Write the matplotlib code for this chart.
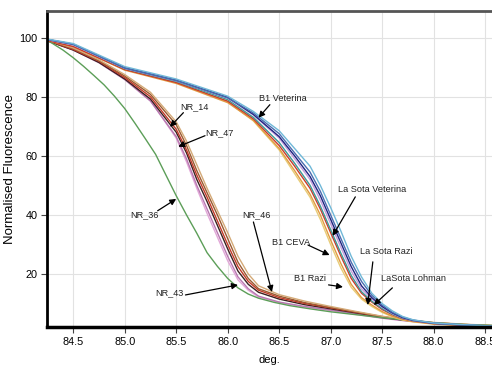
import matplotlib
matplotlib.use("Agg")
import matplotlib.pyplot as plt
from matplotlib import font_manager

installed = {f.name for f in font_manager.fontManager.ttflist}
HAS_NARROW = "Liberation Sans Narrow" in installed
NARROW = ["Liberation Sans Narrow", "Liberation Sans", "DejaVu Sans"]
REGULAR = ["Liberation Sans", "DejaVu Sans"]
TICK_FS = 9 if HAS_NARROW else 7.8
NOTE_FS = 7.5 if HAS_NARROW else 6.6

# melt curves, B1 / La Sota group
temp_a = [84.25, 84.5, 85.0, 85.5, 86.0, 86.25, 86.5, 86.65, 86.8, 86.9, 87.0,
          87.1, 87.2, 87.3, 87.4, 87.5, 87.6, 87.7, 87.8, 88.0, 88.3, 88.57]
lightblue_a = [99.5, 98.0, 90.2, 86.0, 80.2, 75.0, 68.5, 62.5, 56.5, 50.0, 42.5,
               34.5, 26.0, 19.0, 13.5, 10.0, 7.5, 5.6, 4.5, 3.4, 2.8, 2.4]
steel_a = [99.4, 97.7, 89.7, 85.5, 79.6, 74.5, 67.5, 61.0, 54.5, 48.0, 40.0,
           32.0, 24.0, 17.5, 12.8, 9.5, 7.0, 5.4, 4.4, 3.4, 2.8, 2.4]
navy_a = [99.4, 97.8, 89.8, 85.6, 79.8, 74.0, 66.5, 60.0, 53.0, 46.5, 38.5,
          30.5, 22.5, 16.0, 12.0, 9.0, 6.8, 5.2, 4.3, 3.3, 2.7, 2.3]
violet_a = [99.3, 97.5, 89.6, 85.4, 79.5, 73.8, 66.0, 59.0, 52.0, 45.0, 37.0,
            29.0, 21.0, 15.0, 11.5, 8.8, 6.6, 5.1, 4.2, 3.3, 2.7, 2.3]
teal_a = [99.3, 97.6, 89.5, 85.2, 79.0, 73.0, 64.5, 57.5, 50.0, 43.0, 35.0,
          27.0, 19.5, 14.0, 10.8, 8.3, 6.4, 5.0, 4.2, 3.3, 2.7, 2.3]
red_a = [99.0, 97.0, 89.2, 84.8, 78.5, 72.5, 63.5, 56.5, 49.0, 42.0, 34.0,
         26.0, 18.5, 13.5, 10.5, 8.0, 6.2, 4.9, 4.1, 3.2, 2.6, 2.3]
orange_a = [99.0, 97.0, 89.0, 84.5, 78.0, 72.0, 62.5, 55.0, 47.0, 40.0, 31.5,
            23.5, 16.5, 12.0, 9.5, 7.3, 5.7, 4.6, 3.9, 3.1, 2.6, 2.2]
yellow_a = [99.2, 97.3, 89.3, 84.9, 78.3, 71.8, 62.0, 54.0, 46.0, 38.5, 30.0,
            22.0, 15.5, 11.5, 9.0, 7.0, 5.5, 4.4, 3.8, 3.0, 2.5, 2.2]

# NR group
temp_b = [84.25, 84.5, 84.75, 85.0, 85.25, 85.5, 85.6, 85.7, 85.8, 85.9, 86.0,
          86.1, 86.2, 86.3, 86.5, 86.75, 87.0, 87.25, 87.5, 87.75, 88.0, 88.3, 88.57]
tan_b = [99.2, 96.5, 92.5, 87.5, 81.5, 71.5, 65.0, 57.0, 49.0, 41.5, 34.0,
         26.0, 20.0, 16.0, 13.0, 10.8, 9.0, 7.3, 5.7, 4.5, 3.6, 3.0, 2.6]
brown_b = [99.1, 96.3, 92.2, 87.0, 80.8, 70.5, 63.5, 55.0, 47.5, 40.0, 32.0,
           24.0, 18.5, 15.0, 12.5, 10.3, 8.7, 7.1, 5.6, 4.4, 3.5, 2.9, 2.5]
red_b = [99.0, 96.0, 92.0, 86.5, 80.0, 69.0, 62.0, 53.5, 46.0, 38.0, 30.0,
         22.5, 17.5, 14.5, 12.0, 10.0, 8.5, 7.0, 5.5, 4.3, 3.5, 2.9, 2.5]
dark_b = [98.9, 95.8, 91.6, 86.0, 79.2, 68.0, 61.0, 52.0, 44.5, 36.5, 28.5,
          21.0, 16.5, 13.8, 11.5, 9.6, 8.2, 6.8, 5.3, 4.2, 3.4, 2.8, 2.4]
mauve_b = [99.0, 95.8, 91.5, 85.8, 78.5, 66.5, 59.0, 50.0, 42.0, 34.0, 26.0,
           19.0, 15.0, 12.5, 10.5, 9.0, 7.8, 6.5, 5.1, 4.1, 3.3, 2.8, 2.4]
pink_b = [99.1, 96.0, 91.8, 86.2, 78.8, 66.0, 58.0, 49.0, 40.5, 32.5, 24.5,
          18.0, 14.5, 12.2, 10.3, 8.8, 7.6, 6.3, 5.0, 4.0, 3.3, 2.8, 2.4]

# NR_36
temp_c = [84.25, 84.3, 84.4, 84.5, 84.6, 84.7, 84.8, 84.9, 85.0, 85.1, 85.2,
          85.3, 85.4, 85.5, 85.6, 85.7, 85.8, 85.9, 86.0, 86.1, 86.2, 86.3,
          86.45, 86.6, 86.8, 87.0, 87.25, 87.5, 87.75, 88.0, 88.3, 88.57]
green_c = [99.0, 98.0, 95.8, 93.2, 90.3, 87.2, 84.0, 80.2, 76.0, 71.0, 65.8,
           60.5, 53.5, 46.5, 40.0, 33.8, 27.2, 22.6, 18.5, 15.3, 13.2, 11.8,
           10.4, 9.3, 8.2, 7.2, 6.2, 5.2, 4.3, 3.5, 2.9, 2.6]

curves = [
    (temp_b, pink_b, "#e2a8d8"), (temp_b, mauve_b, "#b878b0"),
    (temp_b, dark_b, "#3a2020"), (temp_b, red_b, "#c43a28"),
    (temp_b, brown_b, "#9a5a30"), (temp_b, tan_b, "#d4aa78"),
    (temp_c, green_c, "#5c9e58"),
    (temp_a, yellow_a, "#e8cc78"), (temp_a, orange_a, "#e09a40"),
    (temp_a, red_a, "#cc3a2a"), (temp_a, teal_a, "#3e9a98"),
    (temp_a, violet_a, "#c4a0dc"), (temp_a, navy_a, "#1e2480"),
    (temp_a, steel_a, "#4a6cb0"), (temp_a, lightblue_a, "#70b8d8"),
]

xticks = [84.5, 85.0, 85.5, 86.0, 86.5, 87.0, 87.5, 88.0, 88.5]
yticks = [20, 40, 60, 80, 100]

# (label, text pos, arrow tail, arrow tip)
notes = [
    ("B1 Veterina", (86.30, 79.3), (86.41, 77.3), (86.30, 72.9)),
    ("NR_14", (85.54, 76.6), (85.57, 74.6), (85.44, 69.8)),
    ("NR_47", (85.78, 67.8), (85.78, 66.8), (85.52, 63.1)),
    ("NR_36", (85.05, 40.0), (85.32, 41.4), (85.50, 45.4)),
    ("NR_43", (85.30, 13.6), (85.59, 12.9), (86.10, 16.3)),
    ("NR_46", (86.14, 40.0), (86.25, 37.6), (86.43, 13.9)),
    ("La Sota Veterina", (87.07, 48.5), (87.24, 46.1), (87.02, 32.9)),
    ("B1 CEVA", (86.43, 30.8), (86.78, 29.8), (86.99, 26.4)),
    ("La Sota Razi", (87.29, 27.5), (87.41, 24.1), (87.36, 9.5)),
    ("B1 Razi", (86.64, 18.6), (86.98, 16.3), (87.12, 15.6)),
    ("LaSota Lohman", (87.49, 18.6), (87.60, 15.3), (87.42, 9.5)),
]

fig = plt.figure(figsize=(4.92, 3.68), dpi=100)
ax = fig.add_axes([0.0955, 0.111, 0.905, 0.859])

for tx, ty, col in curves:
    ax.plot(tx, ty, color=col, lw=1.0)

for label, tpos, tail, tip in notes:
    ax.text(tpos[0], tpos[1], label, ha="left", va="center", fontsize=NOTE_FS,
            family=NARROW, color="#222222")
    ax.annotate("", xy=tip, xytext=tail,
                arrowprops=dict(arrowstyle="-|>", color="black", lw=0.9,
                                mutation_scale=9, shrinkA=0, shrinkB=0))

ax.set_xlim(84.245, 88.57)
ax.set_ylim(2, 109)
ax.set_xticks(xticks)
ax.set_xticklabels([f"{t:.1f}" for t in xticks], family=NARROW, fontsize=TICK_FS)
ax.set_yticks(yticks)
ax.set_yticklabels([str(t) for t in yticks], family=NARROW, fontsize=TICK_FS)
ax.tick_params(length=4, width=0.8, color="#444444", pad=3)
ax.grid(True, color="#e2e2e2", lw=0.8)
ax.set_axisbelow(True)

ax.set_ylabel("Normalised Fluorescence", family=REGULAR, fontsize=9.5, labelpad=2)
ax.set_xlabel("deg.", family=NARROW, fontsize=8, labelpad=6)

ax.spines["right"].set_visible(False)
ax.spines["top"].set_color("#555555")
ax.spines["top"].set_linewidth(2)
ax.spines["left"].set_linewidth(2)
ax.spines["bottom"].set_linewidth(2.5)

fig.savefig("out.png", dpi=100)
